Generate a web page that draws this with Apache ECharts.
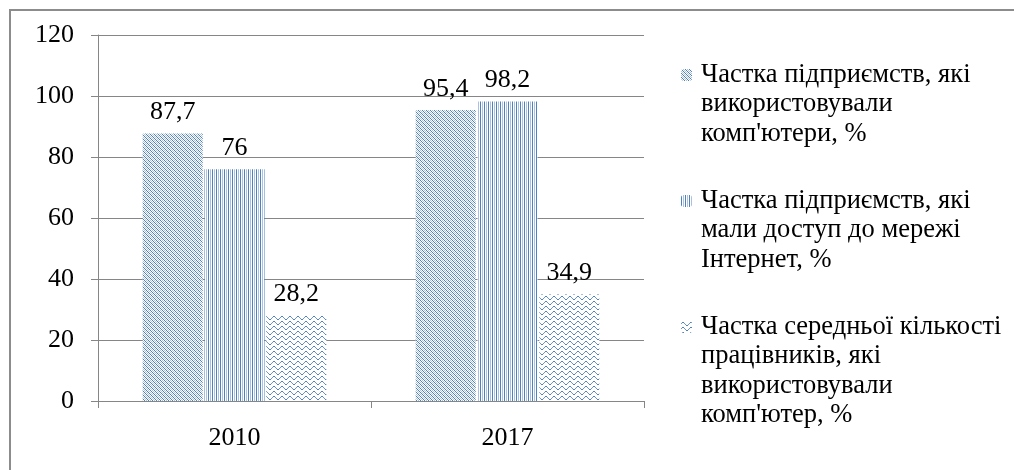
<!DOCTYPE html>
<html>
<head>
<meta charset="utf-8">
<script src="https://cdn.jsdelivr.net/npm/echarts@6/dist/echarts.min.js"></script>
<style>
html,body{margin:0;padding:0;background:#fff;}
#chart{width:1014px;height:470px;}
</style>
</head>
<body>
<div id="chart"></div>
<script>
const categories = ['2010', '2017'];
const seriesNames = [
  "Частка підприємств, які використовували комп'ютери, %",
  "Частка підприємств, які мали доступ до мережі Інтернет, %",
  "Частка середньої кількості працівників, які використовували комп'ютер, %"
];
const legendLines = [
  ["Частка підприємств, які", "використовували", "комп'ютери, %"],
  ["Частка підприємств, які", "мали доступ до мережі", "Інтернет, %"],
  ["Частка середньої кількості", "працівників, які", "використовували", "комп'ютер, %"]
];
const computersShare = [87.7, 95.4];
const internetShare = [76, 98.2];
const workersShare = [28.2, 34.9];
const yTicks = [0, 20, 40, 60, 80, 100, 120];

const DARK = '#4f81bd';
const LIGHT = '#a9c2e4';
const MID = '#7096cc';

function makePattern(kind) {
  const c = document.createElement('canvas');
  const ctx = c.getContext('2d');
  if (kind === 'diag') {
    c.width = 4; c.height = 4;
    ctx.fillStyle = '#fff'; ctx.fillRect(0, 0, 4, 4);
    for (let i = 0; i < 4; i++) {
      ctx.fillStyle = DARK; ctx.fillRect(i, i, 1, 1);
      ctx.fillStyle = LIGHT; ctx.fillRect(i, (i + 2) % 4, 1, 1);
    }
  } else if (kind === 'vert') {
    c.width = 4; c.height = 4;
    ctx.fillStyle = '#fff'; ctx.fillRect(0, 0, 4, 4);
    ctx.fillStyle = DARK; ctx.fillRect(0, 0, 1, 4);
    ctx.fillStyle = LIGHT; ctx.fillRect(2, 0, 1, 4);
  } else {
    c.width = 8; c.height = 5;
    ctx.fillStyle = '#fff'; ctx.fillRect(0, 0, 8, 5);
    const ys = [2, 1, 1, 2, 3, 4, 4, 3];
    for (let x = 0; x < 8; x++) {
      ctx.fillStyle = (ys[x] === 1 || ys[x] === 4) ? DARK : MID;
      ctx.fillRect(x, ys[x], 1, 1);
    }
  }
  return { image: c, repeat: 'repeat' };
}

const patterns = [makePattern('diag'), makePattern('vert'), makePattern('wave')];
const values = [computersShare, internetShare, workersShare];

const FONT = "'Liberation Serif', 'Times New Roman', serif";
const LH = 29.5;
const legendCenters = [75, 201, 327];

const legends = seriesNames.map((name, i) => {
  const n = legendLines[i].length;
  const H = (2 * n - 1) * LH;
  return {
    data: [name],
    orient: 'vertical',
    left: 681,
    top: legendCenters[i] - H / 2,
    padding: 0,
    itemWidth: 11,
    itemHeight: 12,
    itemGap: 0,
    selectedMode: false,
    formatter: () => '\n'.repeat(n - 1) + legendLines[i].join('\n'),
    textStyle: {
      fontFamily: FONT, fontSize: 26.5, lineHeight: LH, color: '#000',
      padding: [0, 0, 0, 4]
    }
  };
});

const chart = echarts.init(document.getElementById('chart'));
chart.setOption({
  animation: false,
  backgroundColor: '#fff',
  textStyle: { fontFamily: FONT },
  graphic: [{
    type: 'rect',
    shape: { x: 10, y: 10, width: 1010, height: 470 },
    style: { fill: 'none', stroke: '#8c8c8c', lineWidth: 2 },
    silent: true
  }],
  legend: legends,
  grid: { left: 98, right: 370, top: 35, bottom: 69 },
  xAxis: {
    type: 'category',
    data: categories,
    axisLine: { lineStyle: { color: '#868686', width: 1 } },
    axisTick: { show: true, alignWithLabel: false, length: 7, lineStyle: { color: '#868686' } },
    axisLabel: { fontFamily: FONT, fontSize: 26, color: '#000', margin: 24 }
  },
  yAxis: {
    type: 'value',
    min: yTicks[0],
    max: yTicks[yTicks.length - 1],
    interval: 20,
    axisLine: { show: true, lineStyle: { color: '#868686', width: 1 } },
    axisTick: { show: true, length: 7, lineStyle: { color: '#868686' } },
    splitLine: { lineStyle: { color: '#868686', width: 1 } },
    axisLabel: { fontFamily: FONT, fontSize: 26, color: '#000', margin: 24 }
  },
  series: seriesNames.map((name, i) => ({
    type: 'bar',
    name: name,
    data: values[i],
    barWidth: 60,
    barGap: '3%',
    itemStyle: { color: patterns[i] },
    label: {
      show: true,
      position: 'top',
      distance: 8,
      fontFamily: FONT,
      fontSize: 26,
      color: '#000',
      formatter: p => String(p.value).replace('.', ',')
    }
  }))
});
</script>
</body>
</html>
